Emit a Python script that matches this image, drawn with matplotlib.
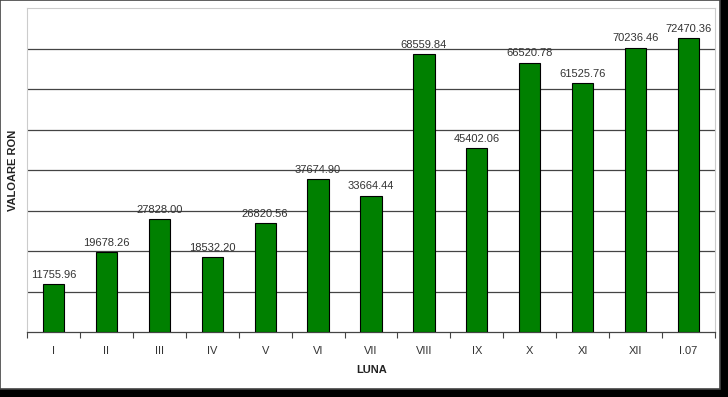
import numpy as np
import matplotlib
matplotlib.use("Agg")
import matplotlib.pyplot as plt
from matplotlib.patches import Rectangle

# Data
luni = ['I', 'II', 'III', 'IV', 'V', 'VI', 'VII', 'VIII', 'IX', 'X', 'XI', 'XII', 'I.07']
valori = [11755.96, 19678.26, 27828.00, 18532.20, 26820.56, 37674.90, 33664.44,
          68559.84, 45402.06, 66520.78, 61525.76, 70236.46, 72470.36]

plt.rcParams['font.family'] = ['Liberation Sans', 'DejaVu Sans']

W, H = 728, 397
fig = plt.figure(figsize=(W / 100, H / 100), dpi=100, facecolor='black')

# white card with drop shadow (black background shows at right/bottom)
card = Rectangle((0, 1 - 389 / H), 720 / W, 389 / H, transform=fig.transFigure,
                 facecolor='white', edgecolor='#444444', linewidth=1.2, zorder=-1)
fig.patches.append(card)

ax = fig.add_axes([27 / W, 1 - 332 / H, (715 - 27) / W, (332 - 8) / H])
ax.set_facecolor('white')

x = np.arange(len(luni))
bars = ax.bar(x, valori, width=0.4, color='#008000', edgecolor='black', linewidth=0.8, zorder=3)

for b, v in zip(bars, valori):
    ax.annotate(f'{v:.2f}', xy=(b.get_x() + b.get_width() / 2, v), xytext=(0, 3),
                textcoords='offset points', ha='center', va='bottom',
                fontsize=8, color='#333333')

ax.set_ylim(0, 80000)
ax.set_xlim(-0.5, len(luni) - 0.5)
ax.set_yticks(np.arange(10000, 80000, 10000))
ax.yaxis.grid(True, color='#444444', linewidth=0.9, zorder=0)
ax.tick_params(axis='y', left=False, labelleft=False)

# category ticks between bars
ax.set_xticks(x)
ax.set_xticklabels(luni, fontsize=8, color='#333333')
ax.tick_params(axis='x', length=0, pad=10)
ax.set_xticks(np.arange(-0.5, len(luni), 1), minor=True)
ax.tick_params(axis='x', which='minor', length=4, width=0.8, color='#444444', direction='out')

for s in ['left', 'top', 'right']:
    ax.spines[s].set_color('#cccccc')
    ax.spines[s].set_linewidth(0.8)
ax.spines['bottom'].set_color('#444444')
ax.spines['bottom'].set_linewidth(0.9)

fig.text(372 / W, 1 - 370 / H, 'LUNA', ha='center', va='center',
         fontsize=8, fontweight='bold', color='#222222')
fig.text(13 / W, 1 - 170 / H, 'VALOARE RON', ha='center', va='center', rotation=90,
         fontsize=8, fontweight='bold', color='#222222')

fig.savefig('out.png', dpi=100, facecolor='black')
